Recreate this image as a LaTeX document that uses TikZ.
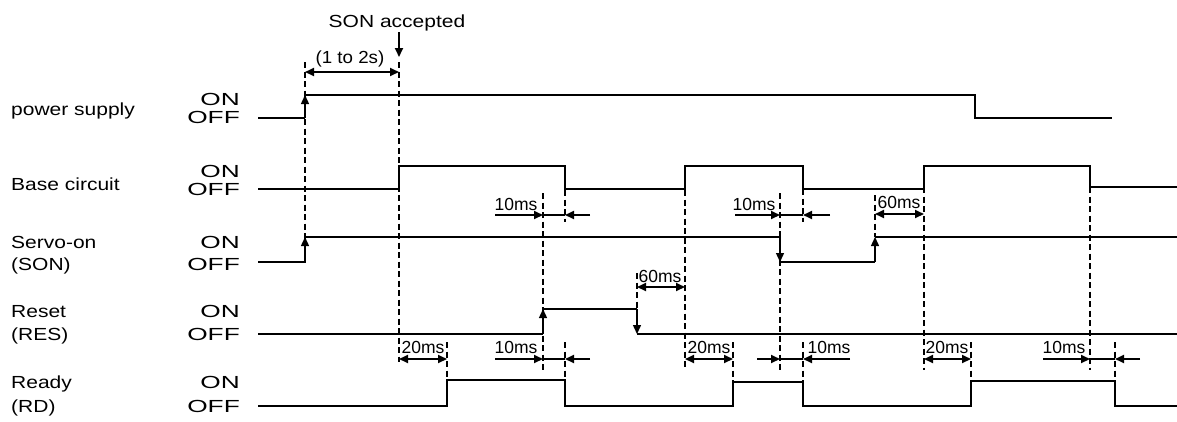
\documentclass[tikz,border=0pt]{standalone}
\usepackage{fontspec}
\setmainfont{Liberation Sans}
\newfontfamily\lblfont[FakeStretch=1.2]{Liberation Sans}
\newfontfamily\onfont[FakeStretch=1.5]{Liberation Sans}
\newfontfamily\msfont[FakeStretch=1.0]{Liberation Sans}
\newfontfamily\parfont[FakeStretch=1.07]{Liberation Sans}
\usetikzlibrary{arrows.meta}
\begin{document}
\begin{tikzpicture}[x=1pt,y=-1pt,
 sig/.style={line width=1.4pt},
 dsh/.style={line width=2pt, dash pattern=on 6pt off 3.5pt},
 dbl/.style={line width=1.9pt,{Triangle[length=9pt,width=8pt]}-{Triangle[length=9pt,width=8pt]}},
 one/.style={line width=1.9pt,-{Triangle[length=9pt,width=8pt]}},
 edgetip/.style={line width=1.4pt,-{Triangle[length=9pt,width=8pt]}},
 plain/.style={line width=1.9pt},
 lbl/.style={inner sep=0pt, anchor=base west, font=\lblfont\fontsize{17.5}{20}\selectfont},
 onoff/.style={inner sep=0pt, anchor=base east, font=\onfont\fontsize{17.5}{20}\selectfont},
 ms/.style={inner sep=0pt, anchor=base, font=\msfont\fontsize{17.5}{20}\selectfont},
]
\useasboundingbox (0,0) rectangle (1177,421);

% ---- left labels
\node[lbl] (lps) at (11,115) {power supply};
\node[lbl] (lbc) at (11,190) {Base circuit};
\node[lbl] (lso1) at (11,248) {Servo-on};
\node[lbl] (lso2) at (11,270) {(SON)};
\node[lbl] (lre1) at (11,317) {Reset};
\node[lbl] (lre2) at (11,340) {(RES)};
\node[lbl] (lrd1) at (11,388) {Ready};
\node[lbl] (lrd2) at (11,412) {(RD)};

\node[onoff] (psOn) at (240,105) {ON};
\node[onoff] (psOff) at (240,123) {OFF};
\node[onoff] (bcOn) at (240,177) {ON};
\node[onoff] (bcOff) at (240,195) {OFF};
\node[onoff] (soOn) at (240,248) {ON};
\node[onoff] (soOff) at (240,270) {OFF};
\node[onoff] (reOn) at (240,317) {ON};
\node[onoff] (reOff) at (240,340) {OFF};
\node[onoff] (rdOn) at (240,388) {ON};
\node[onoff] (rdOff) at (240,412) {OFF};

% ---- top annotations
\node[ms, font=\lblfont\fontsize{17.5}{20}\selectfont] (son) at (397,27) {SON accepted};
\draw[one] (399,32) -- (399,57);
\node[ms, font=\parfont\fontsize{17.5}{20}\selectfont] (t12) at (350,63) {(1 to 2s)};
\draw[dbl] (305,72) -- (399,72);

% ---- dashed lines
\draw[dsh] (305,62) -- (305,263);
\draw[dsh] (399,62) -- (399,362);
\draw[dsh] (447,342) -- (447,380);
\draw[dsh] (543,193) -- (543,370);
\draw[dsh] (565,190) -- (565,222);
\draw[dsh] (565,342) -- (565,380);
\draw[dsh] (637,273) -- (637,309);
\draw[dsh] (685,190) -- (685,370);
\draw[dsh] (733,342) -- (733,382);
\draw[dsh] (780,193) -- (780,370);
\draw[dsh] (803,189) -- (803,222);
\draw[dsh] (803,342) -- (803,382);
\draw[dsh] (875,195) -- (875,237);
\draw[dsh] (924,187) -- (924,370);
\draw[dsh] (971,342) -- (971,381);
\draw[dsh] (1090,187) -- (1090,370);
\draw[dsh] (1115,342) -- (1115,380);

% ---- signals
% power supply
\draw[sig] (258,118) -- (305,118);
\draw[edgetip] (305,118) -- (305,95);
\draw[sig] (305,95) -- (975,95) -- (975,118) -- (1112,118);
% base circuit
\draw[sig] (258,189) -- (399,189) -- (399,166) -- (565,166) -- (565,189) -- (685,189) -- (685,166) -- (803,166) -- (803,189) -- (924,189) -- (924,166) -- (1090,166) -- (1090,187) -- (1177,187);
% servo-on
\draw[sig] (258,262) -- (305,262);
\draw[edgetip] (305,262) -- (305,237);
\draw[sig] (305,237) -- (780,237);
\draw[edgetip] (780,237) -- (780,262);
\draw[sig] (780,262) -- (875,262);
\draw[edgetip] (875,262) -- (875,237);
\draw[sig] (875,237) -- (1177,237);
% reset
\draw[sig] (258,334) -- (543,334);
\draw[edgetip] (543,334) -- (543,309);
\draw[sig] (543,309) -- (637,309);
\draw[edgetip] (637,309) -- (637,334);
\draw[sig] (637,334) -- (1177,334);
% ready
\draw[sig] (258,406) -- (447,406) -- (447,380) -- (565,380) -- (565,406) -- (733,406) -- (733,382) -- (803,382) -- (803,406) -- (971,406) -- (971,381) -- (1115,381) -- (1115,406) -- (1177,406);

% ---- timing arrows, base row
\node[ms] (m1) at (516,210) {10ms};
\draw[one] (495,215) -- (543,215);
\draw[plain] (543,215) -- (565,215);
\draw[one] (590,215) -- (565,215);
\node[ms] (m2) at (754,210) {10ms};
\draw[one] (735,215) -- (780,215);
\draw[plain] (780,215) -- (803,215);
\draw[one] (830,215) -- (803,215);
\node[ms] (m3) at (899,208) {60ms};
\draw[dbl] (875,214) -- (924,214);
% reset row
\node[ms] (m4) at (660,282) {60ms};
\draw[dbl] (637,287) -- (685,287);
% bottom row
\node[ms] (m5) at (423,353) {20ms};
\draw[dbl] (399,359) -- (447,359);
\node[ms] (m6) at (516,353) {10ms};
\draw[one] (495,359) -- (543,359);
\draw[plain] (543,359) -- (565,359);
\draw[one] (590,359) -- (565,359);
\node[ms] (m7) at (709,353) {20ms};
\draw[dbl] (685,359) -- (733,359);
\draw[one] (757,359) -- (780,359);
\draw[plain] (780,359) -- (803,359);
\draw[one] (850,359) -- (803,359);
\node[ms] (m8) at (829,353) {10ms};
\node[ms] (m9) at (947,353) {20ms};
\draw[dbl] (924,359) -- (971,359);
\node[ms] (m10) at (1064,353) {10ms};
\draw[one] (1043,359) -- (1090,359);
\draw[plain] (1090,359) -- (1115,359);
\draw[one] (1140,359) -- (1115,359);
\end{tikzpicture}
\end{document}
